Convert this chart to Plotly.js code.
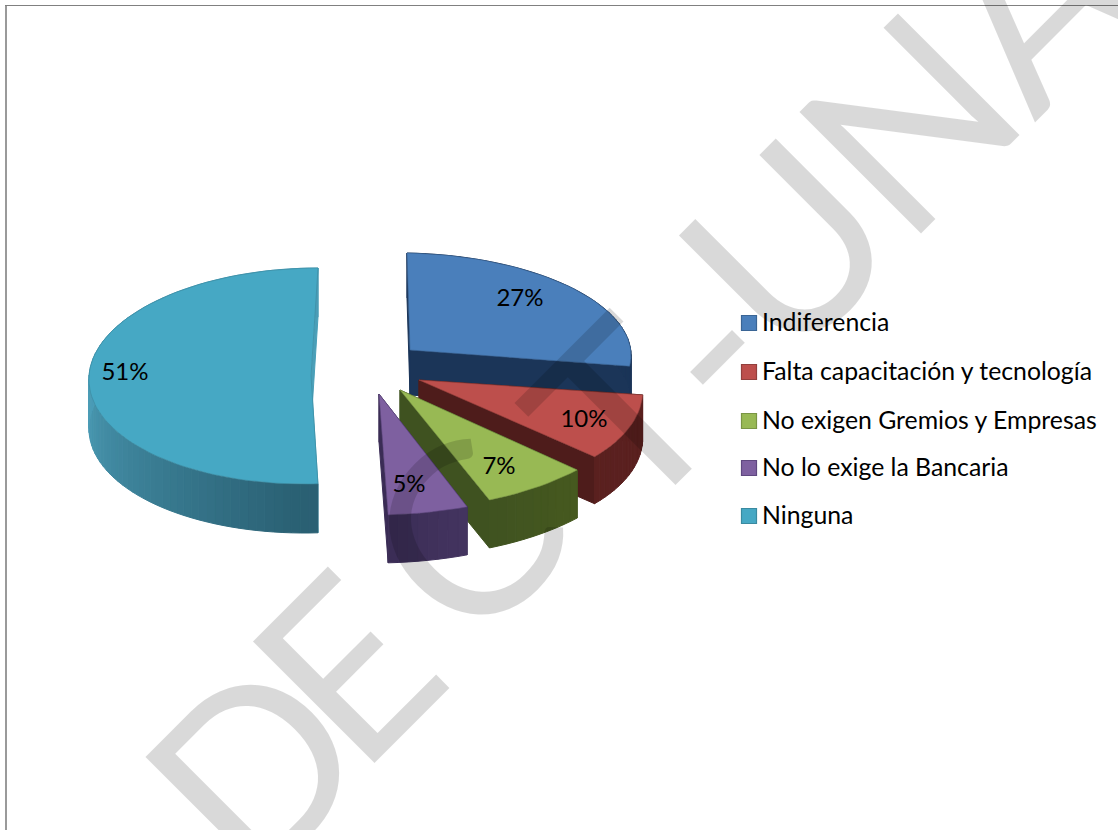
<!DOCTYPE html>
<html><head><meta charset="utf-8">
<script src="https://cdn.plot.ly/plotly-3.0.1.min.js"></script>
<style>html,body{margin:0;padding:0;background:#fff;overflow:hidden}#c{width:1118px;height:830px}</style>
</head><body><div id="c"></div>
<script>
const categories = ["Indiferencia","Falta capacitación y tecnología","No exigen Gremios y Empresas","No lo exige la Bancaria","Ninguna"];
const values = [27,10,7,5,51];
const topColors = ["#4a7fbb","#bd4f4c","#98b954","#7e60a0","#46a8c4"];
const edgeColors = ["#3a6595","#93403d","#7a9544","#5f4880","#3a8aa0"];
const cutColors = ["#1b3558","#4e1c1b","#3f5220","#3a2c55","#4a9fb8"];
const wallFrom = ["#1b3558","#5a201f","#46591f","#43345f","#4b9cb6"];
const wallTo = ["#1b3558","#5a201f","#3f5220","#3a2c55","#2a6073"];

// Projection of each exploded slice: tip, then the affine axes of its ellipse, and extrusion depth.
const slices = [
  {cx:410,cy:350,a:221,b:3,c:97,d:4,depth:45,lx:520,ly:300},
  {cx:419,cy:380,a:223,b:19,c:111,d:1,depth:47,lx:584,ly:421},
  {cx:400,cy:390,a:243,b:0,c:119,d:-2,depth:48,lx:499,ly:468},
  {cx:379,cy:394,a:257,b:-7,c:121,d:1,depth:48,lx:409,ly:486},
  {cx:311,cy:376,a:222,b:-7,c:108,d:0,depth:49,lx:125,ly:374}
];
const legendX = 749, legendTextX = 762, legendY = [323,372,421,468,516], legendTextDy = 2;
// Watermark "DECT -UNA": one rotated glyph at a time, so that its spacing follows the reference.
const wmLetters = ["D","E","C","T","-","U","N","A"];
const wmX = [250,342,461,618,702,783,904,1026];
const wmY = [764,664,532,411,343,243,119,0];
const wmSize = 240, wmAngle = -45;

function hex(c){return [1,3,5].map(i=>parseInt(c.substr(i,2),16));}
function mix(c1,c2,t){const a=hex(c1),b=hex(c2);return "rgb("+a.map((v,i)=>Math.round(v+(b[i]-v)*t)).join(",")+")";}

const total = values.reduce((s,v)=>s+v,0);
const traces = [];
function poly(xs,ys,fill,line,w){
  traces.push({type:"scatter",mode:"lines",x:xs,y:ys,fill:"toself",fillcolor:fill,
    line:{color:line||fill,width:w===undefined?1:w},hoverinfo:"skip",showlegend:false});
}
let start = 0;
const spans = values.map(v=>{const s=[start,start+v/total*2*Math.PI];start=s[1];return s;});
values.forEach((_,i)=>{
  const g=slices[i],[t0,t1]=spans[i];
  const pt=t=>{const u=Math.sin(t),v=-Math.cos(t);
    return [g.cx+g.a*u+g.b*v, g.cy+g.c*v+g.d*u];};
  const n=Math.max(8,Math.round((t1-t0)/0.04));
  const ts=[];for(let k=0;k<=n;k++)ts.push(t0+(t1-t0)*k/n);
  // cut faces
  [t0,t1].forEach(t=>{const p=pt(t);
    poly([g.cx,p[0],p[0],g.cx,g.cx],[g.cy,p[1],p[1]+g.depth,g.cy+g.depth,g.cy],cutColors[i]);});
  // outer wall as shaded strips
  for(let k=0;k<n;k++){
    const a=ts[k],b=ts[k+1],p=pt(a),q=pt(b);
    const f=i===4?1-Math.min(1,Math.max(0,(a-Math.PI)/(Math.PI/2))):k/n;
    poly([p[0],q[0],q[0],p[0],p[0]],[p[1],q[1],q[1]+g.depth,p[1]+g.depth,p[1]],mix(wallFrom[i],wallTo[i],f));
  }
  // top face
  const xs=[g.cx],ys=[g.cy];
  ts.forEach(t=>{const p=pt(t);xs.push(p[0]);ys.push(p[1]);});
  xs.push(g.cx);ys.push(g.cy);
  poly(xs,ys,topColors[i],edgeColors[i],0.6);
});
// percentage labels
traces.push({type:"scatter",mode:"text",x:slices.map(s=>s.lx),y:slices.map(s=>s.ly),
  text:values.map(v=>v+"%"),textposition:"middle center",
  textfont:{family:"Lato, sans-serif",size:24,color:"#000"},hoverinfo:"skip",showlegend:false});
// legend
traces.push({type:"scatter",mode:"markers",x:legendY.map(()=>legendX),y:legendY,
  marker:{symbol:"square",size:15,color:topColors,line:{color:edgeColors,width:1.2}},hoverinfo:"skip",showlegend:false});
traces.push({type:"scatter",mode:"text",x:legendY.map(()=>legendTextX),y:legendY.map(y=>y+legendTextDy),text:categories,textposition:"middle right",
  textfont:{family:"Lato, sans-serif",size:24.8,color:"#000"},hoverinfo:"skip",showlegend:false});

const layout = {
  width:1118,height:830,margin:{l:0,r:0,t:0,b:0},paper_bgcolor:"#fff",plot_bgcolor:"#fff",showlegend:false,
  xaxis:{range:[0,1118],visible:false,fixedrange:true},
  yaxis:{range:[830,0],visible:false,fixedrange:true},
  shapes:[
    {type:"line",xref:"x",yref:"y",x0:6,x1:6,y0:5,y1:830,line:{color:"#9a9a9a",width:2}},
    {type:"line",xref:"x",yref:"y",x0:5,x1:1118,y0:5.5,y1:5.5,line:{color:"#808080",width:1}}
  ],
  annotations:wmLetters.map((ch,i)=>({text:ch,x:wmX[i],y:wmY[i],xref:"x",yref:"y",showarrow:false,textangle:wmAngle,
    font:{family:"Lato, sans-serif",size:wmSize,color:"rgba(0,0,0,0.15)"}}))
};
Plotly.newPlot("c",traces,layout,{displayModeBar:false,staticPlot:true});
</script></body></html>
